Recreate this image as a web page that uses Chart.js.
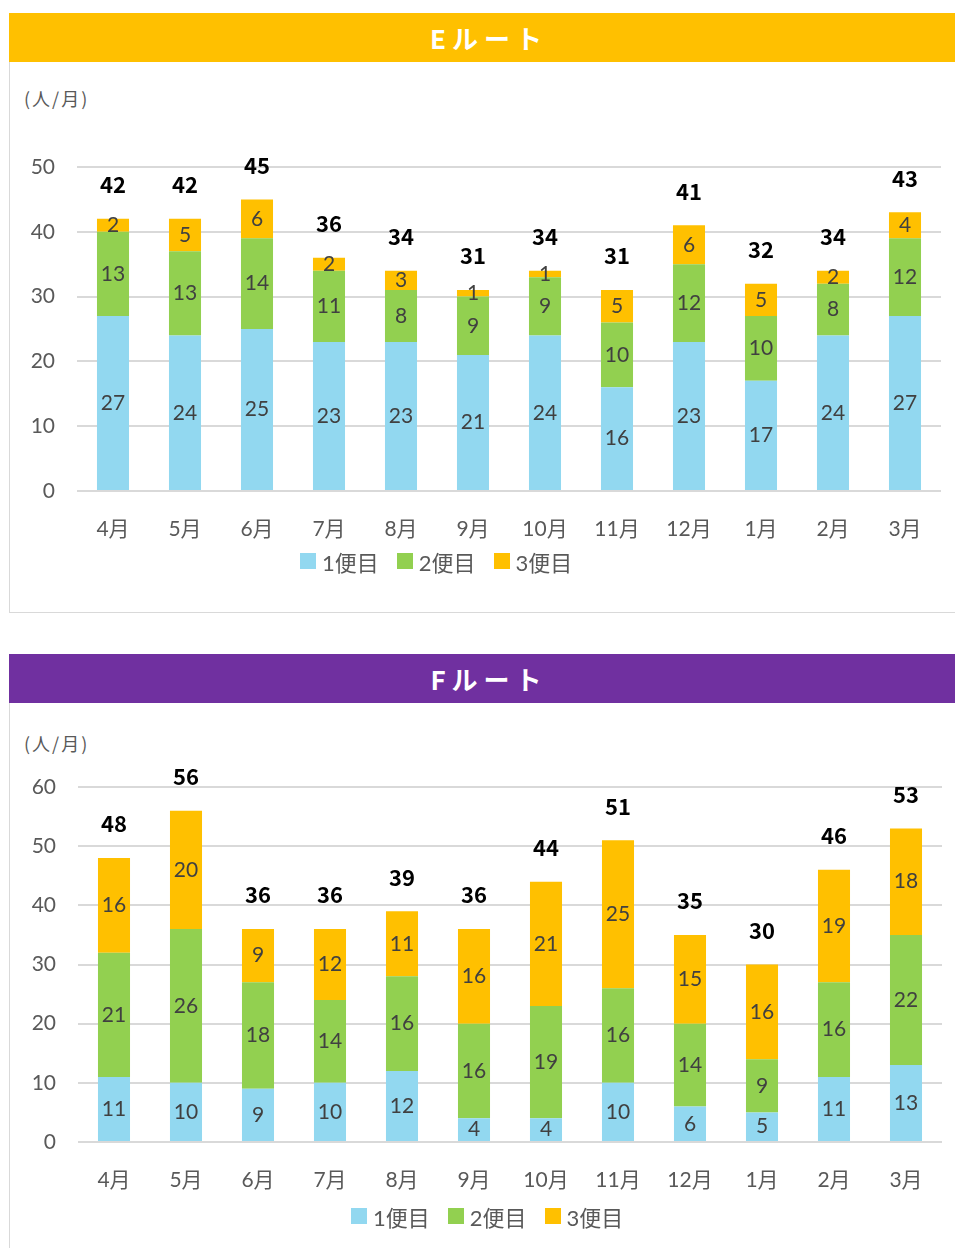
<!DOCTYPE html>
<html>
<head>
<meta charset="utf-8">
<script src="https://cdn.jsdelivr.net/npm/chart.js@4"></script>
<style>
body{margin:0;background:#fff;font-family:"Lato","Noto Sans CJK JP",sans-serif;}
.head{position:absolute;left:9px;width:946px;height:49px;color:#fff;font-family:"Noto Sans CJK JP",sans-serif;font-weight:bold;font-size:26px;line-height:49px;text-align:center;letter-spacing:6px;padding-left:14px;box-sizing:border-box;}
.panel{position:absolute;left:9px;width:946px;border-left:1px solid #d9d9d9;border-bottom:1px solid #d9d9d9;box-sizing:border-box;}
.unit{position:absolute;left:24px;font-family:"Noto Sans CJK JP",sans-serif;font-size:18px;letter-spacing:2px;color:#595959;}
.box{position:absolute;left:10px;width:945px;}
.legend{position:absolute;display:flex;align-items:center;height:24px;font-size:22px;color:#595959;white-space:nowrap;}
.legend span.sw{display:inline-block;width:16px;height:16px;margin-right:6px;}
.legend span.item{display:flex;align-items:center;margin-right:18px;}
</style>
</head>
<body>
<div class="head" style="top:13px;background:#FFC000;">Eルート</div>
<div class="panel" style="top:62px;height:551px;"></div>
<div class="unit" style="top:85px;">(人/月)</div>
<div class="box" style="top:62px;height:550px;"><canvas id="chartE"></canvas></div>
<div class="legend" id="legendE" style="left:300px;top:549px;"></div>

<div class="head" style="top:654px;background:#7030A0;">Fルート</div>
<div class="panel" style="top:703px;height:560px;"></div>
<div class="unit" style="top:730px;">(人/月)</div>
<div class="box" style="top:703px;height:545px;"><canvas id="chartF"></canvas></div>
<div class="legend" id="legendF" style="left:351px;top:1204px;"></div>

<script>
const months = ["4月", "5月", "6月", "7月", "8月", "9月", "10月", "11月", "12月", "1月", "2月", "3月"];
const seriesNames = ["1便目", "2便目", "3便目"];

// Eルート
const e1 = [27, 24, 25, 23, 23, 21, 24, 16, 23, 17, 24, 27];
const e2 = [13, 13, 14, 11, 8, 9, 9, 10, 12, 10, 8, 12];
const e3 = [2, 5, 6, 2, 3, 1, 1, 5, 6, 5, 2, 4];

// Fルート
const f1 = [11, 10, 9, 10, 12, 4, 4, 10, 6, 5, 11, 13];
const f2 = [21, 26, 18, 14, 16, 16, 19, 16, 14, 9, 16, 22];
const f3 = [16, 20, 9, 12, 11, 16, 21, 25, 15, 16, 19, 18];

const colors = ["#92D8F0", "#92D050", "#FFC000"];
const FONT = '"Lato", "Noto Sans CJK JP", sans-serif';

// values inside the bars + totals above
const labelPlugin = {
    id: "barLabels",
    afterDatasetsDraw(chart) {
        const ctx = chart.ctx;
        ctx.save();
        ctx.textAlign = "center";
        ctx.textBaseline = "middle";
        ctx.font = "21px " + FONT;
        ctx.fillStyle = "#404040";
        chart.data.datasets.forEach((ds, i) => {
            chart.getDatasetMeta(i).data.forEach((bar, j) => {
                ctx.fillText(ds.data[j], bar.x, (bar.y + bar.base) / 2);
            });
        });
        ctx.font = 'bold 22px "Noto Sans CJK JP", sans-serif';
        ctx.fillStyle = "#000";
        const top = chart.getDatasetMeta(chart.data.datasets.length - 1);
        top.data.forEach((bar, j) => {
            let total = 0;
            chart.data.datasets.forEach(ds => total += ds.data[j]);
            ctx.fillText(total, bar.x, bar.y - 34);
        });
        ctx.restore();
    }
};

function makeLegend(id) {
    const el = document.getElementById(id);
    seriesNames.forEach((name, i) => {
        const item = document.createElement("span");
        item.className = "item";
        item.innerHTML = '<span class="sw" style="background:' + colors[i] + '"></span>' + name;
        el.appendChild(item);
    });
}

function makeChart(id, s1, s2, s3, yMax, pad, axisW, xH) {
    const data = [s1, s2, s3];
    return new Chart(document.getElementById(id), {
        type: "bar",
        data: {
            labels: months,
            datasets: seriesNames.map((name, i) => ({
                label: name,
                data: data[i],
                backgroundColor: colors[i],
                borderWidth: 0,
                barPercentage: 0.445,
                categoryPercentage: 1.0,
            })),
        },
        options: {
            responsive: true,
            maintainAspectRatio: false,
            animation: false,
            layout: { padding: pad },
            scales: {
                x: {
                    stacked: true,
                    grid: { display: false },
                    border: { display: false },
                    ticks: { color: "#595959", font: { family: FONT, size: 21 }, padding: 18 },
                    afterFit: s => { s.height = xH; },
                },
                y: {
                    stacked: true,
                    min: 0,
                    max: yMax,
                    ticks: { stepSize: 10, color: "#595959", font: { family: FONT, size: 21 }, padding: 22 },
                    grid: { color: "#d9d9d9", lineWidth: 2, drawTicks: false },
                    border: { display: false },
                    afterFit: s => { s.width = axisW; },
                },
            },
            plugins: {
                legend: { display: false },
                tooltip: { enabled: false },
            },
        },
        plugins: [labelPlugin],
    });
}

makeChart("chartE", e1, e2, e3, 50, { top: 105, right: 14, left: 0, bottom: 73 }, 67, 48);
makeChart("chartF", f1, f2, f3, 60, { top: 84, right: 13, left: 0, bottom: 56 }, 68, 50);
makeLegend("legendE");
makeLegend("legendF");
</script>
</body>
</html>
